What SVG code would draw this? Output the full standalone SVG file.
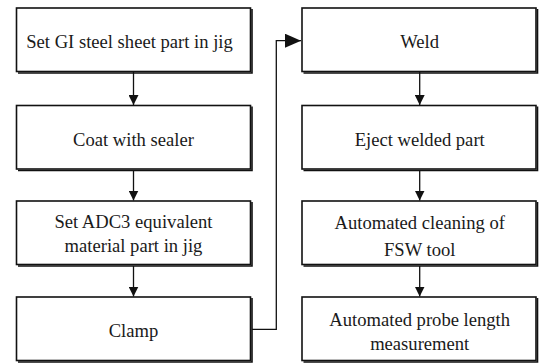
<svg xmlns="http://www.w3.org/2000/svg" width="539" height="363" viewBox="0 0 539 363">
<style>
.box{fill:#fff;stroke:#111;stroke-width:1.6}
.sh{fill:none;stroke:#111;stroke-width:1.6}
.t{font-family:"Liberation Serif","Times New Roman",serif;font-size:18.6px;fill:#1a1a1a;text-anchor:middle}
.c{fill:none;stroke:#111;stroke-width:1.3}
</style>
<defs>
<marker id="ah" viewBox="0 0 10 10" refX="10" refY="5" markerWidth="10" markerHeight="10" markerUnits="userSpaceOnUse" orient="auto">
<path d="M0,0 L10,5 L0,10 Z" fill="#111"/>
</marker>
<marker id="ah2" viewBox="0 0 10 10" refX="10" refY="5" markerWidth="16" markerHeight="14" markerUnits="userSpaceOnUse" orient="auto" preserveAspectRatio="none">
<path d="M0,0 L10,5 L0,10 Z" fill="#111"/>
</marker>
</defs>
<g id="connectors">
<line class="c" x1="133.5" y1="72" x2="133.5" y2="105" marker-end="url(#ah)"/>
<line class="c" x1="133.5" y1="170" x2="133.5" y2="200.5" marker-end="url(#ah)"/>
<line class="c" x1="133.5" y1="266" x2="133.5" y2="296.5" marker-end="url(#ah)"/>
<polyline class="c" points="252,329.3 276.3,329.3 276.3,40.7 301,40.7" marker-end="url(#ah2)"/>
<line class="c" x1="419.7" y1="72" x2="419.7" y2="105" marker-end="url(#ah)"/>
<line class="c" x1="419.7" y1="170" x2="419.7" y2="200.5" marker-end="url(#ah)"/>
<line class="c" x1="419.7" y1="266" x2="419.7" y2="296.5" marker-end="url(#ah)"/>
</g>
<g id="n1">
<rect class="box" x="16.5" y="8" width="234" height="63.5"/>
<polyline class="sh" points="252,9 252,73 18,73"/>
<text class="t" x="129.5" y="48.3">Set GI steel sheet part in jig</text>
</g>
<g id="n2">
<rect class="box" x="16.5" y="105.5" width="234" height="63.5"/>
<polyline class="sh" points="252,106.5 252,170.5 18,170.5"/>
<text class="t" x="133.5" y="145.7">Coat with sealer</text>
</g>
<g id="n3">
<rect class="box" x="16.5" y="201" width="234" height="63.5"/>
<polyline class="sh" points="252,202 252,266 18,266"/>
<text class="t" x="133.5" y="227.7">Set ADC3 equivalent</text>
<text class="t" x="133.5" y="251.7">material part in jig</text>
</g>
<g id="n4">
<rect class="box" x="16.5" y="297" width="234" height="63.5"/>
<polyline class="sh" points="252,298 252,362 18,362"/>
<text class="t" x="133.5" y="336.7">Clamp</text>
</g>
<g id="n5">
<rect class="box" x="302" y="8" width="234" height="63.5"/>
<polyline class="sh" points="537.5,9 537.5,73 303.5,73"/>
<text class="t" x="419.7" y="48.3">Weld</text>
</g>
<g id="n6">
<rect class="box" x="302" y="105.5" width="234" height="63.5"/>
<polyline class="sh" points="537.5,106.5 537.5,170.5 303.5,170.5"/>
<text class="t" x="419.7" y="145.7">Eject welded part</text>
</g>
<g id="n7">
<rect class="box" x="302" y="201" width="234" height="63.5"/>
<polyline class="sh" points="537.5,202 537.5,266 303.5,266"/>
<text class="t" x="419.7" y="229">Automated cleaning of</text>
<text class="t" x="419.7" y="256">FSW tool</text>
</g>
<g id="n8">
<rect class="box" x="302" y="297" width="234" height="63.5"/>
<polyline class="sh" points="537.5,298 537.5,362 303.5,362"/>
<text class="t" x="419.7" y="325.7">Automated probe length</text>
<text class="t" x="419.7" y="350">measurement</text>
</g>
</svg>
